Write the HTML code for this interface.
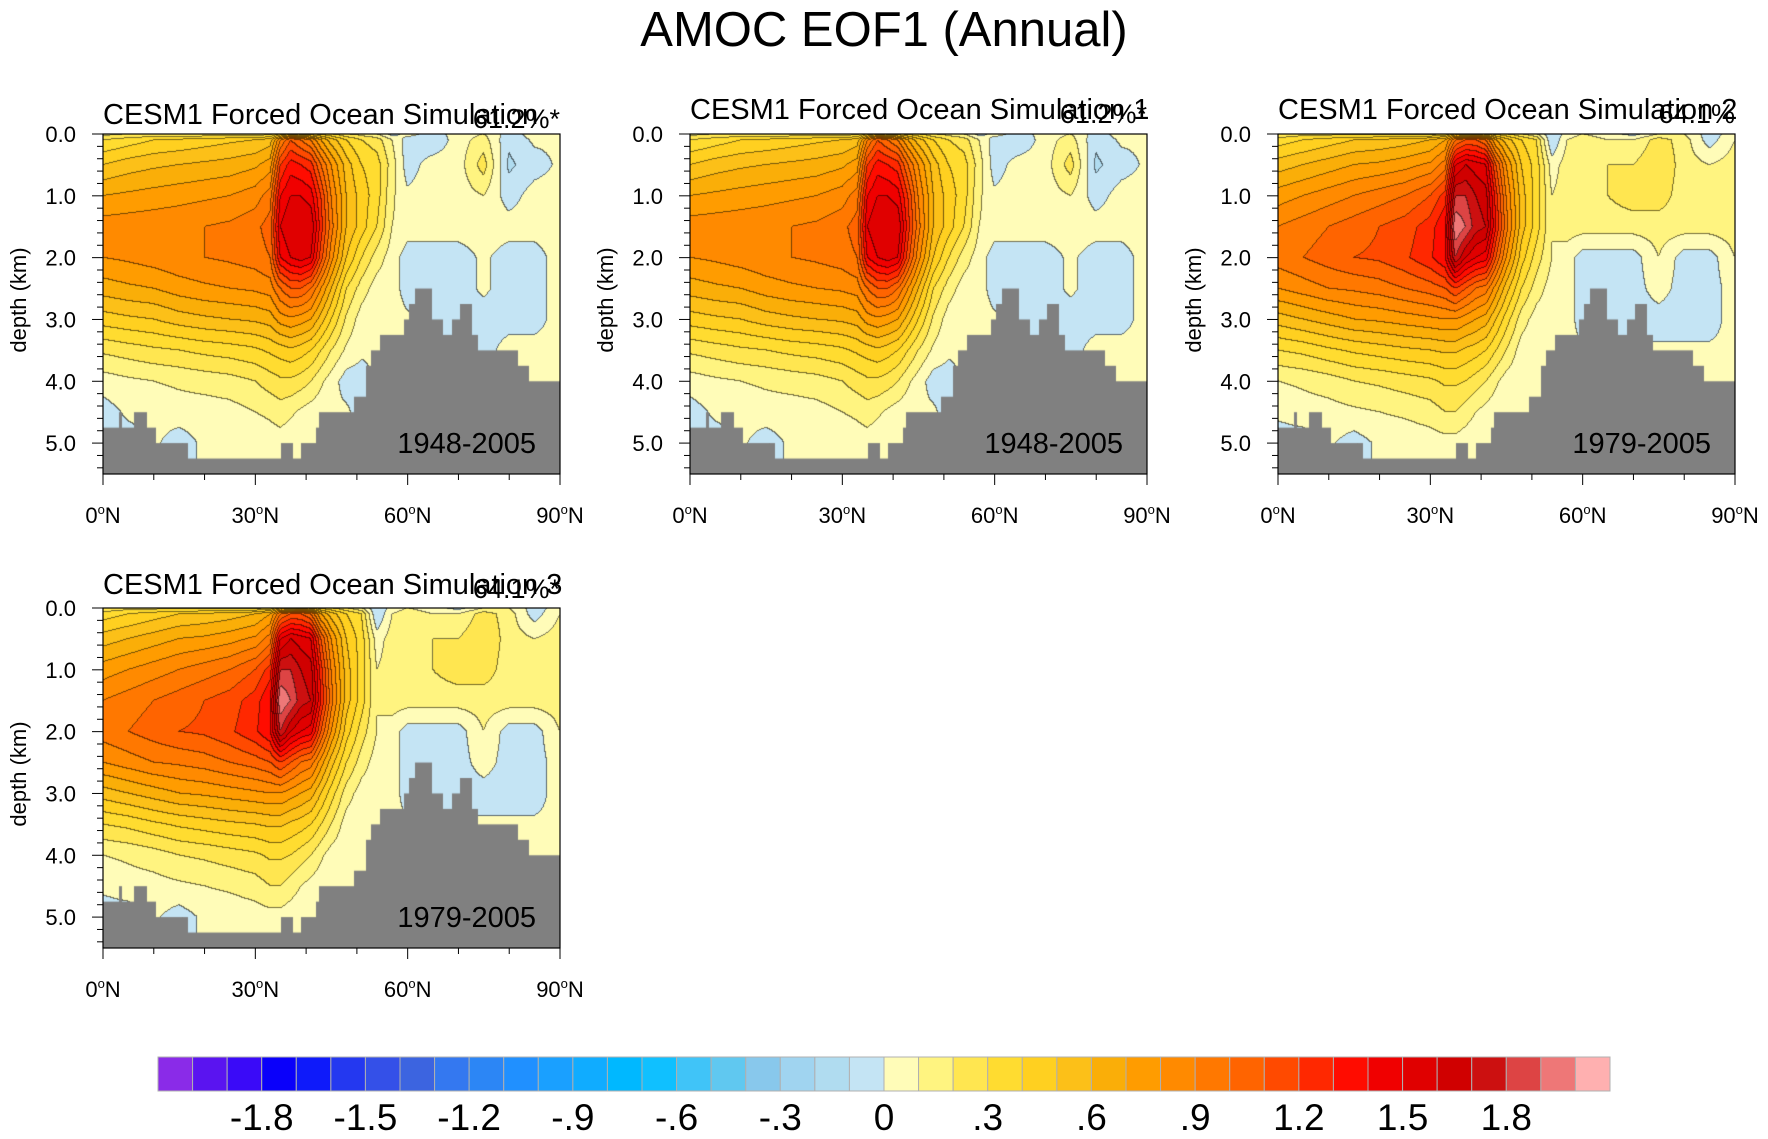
<!DOCTYPE html>
<html>
<head>
<meta charset="utf-8">
<style>
  html,body{margin:0;padding:0;background:#fff;}
  body{width:1768px;height:1139px;position:relative;overflow:hidden;font-family:"Liberation Sans",sans-serif;}
  canvas{position:absolute;}
  svg{position:absolute;left:0;top:0;}
</style>
</head>
<body>
<div id="root"></div>
<svg id="ov" width="1768" height="1139"></svg>
<script>
// ---- data ----
const lats = [0,5,10,15,20,25,30,33,35,37,39,41,43,45,48,51,54,57,60,65,70,75,80,85,90];
const depths = [0,0.1,0.5,1,1.5,2,2.5,3,3.5,4,4.5,5,5.5];
const fieldA = [
 [0.15,0.2,0.2,0.2,0.2,0.2,0.2,0.25,0.4,0.5,0.45,0.4,0.35,0.3,0.2,0.15,0.1,-0.05,0.05,-0.05,0.05,0.1,-0.05,0.05,0.05],
 [0.3,0.35,0.4,0.42,0.45,0.48,0.5,0.55,0.9,1.1,1.0,0.9,0.7,0.55,0.4,0.3,0.25,0.1,-0.05,-0.08,0.05,0.15,-0.08,0.02,0.02],
 [0.5,0.55,0.58,0.6,0.62,0.64,0.68,0.75,1.2,1.35,1.3,1.25,1.0,0.8,0.55,0.4,0.35,0.15,-0.05,0.05,0.05,0.25,-0.12,-0.05,0.02],
 [0.7,0.72,0.74,0.76,0.78,0.8,0.85,0.95,1.4,1.5,1.5,1.45,1.2,0.9,0.6,0.45,0.35,0.12,0.02,0.05,0.05,0.1,-0.05,0.05,0.05],
 [0.85,0.86,0.87,0.88,0.9,0.92,0.97,1.05,1.5,1.6,1.6,1.6,1.25,0.95,0.6,0.45,0.3,0.1,0.05,0.05,0.05,0.05,0.05,0.05,0.05],
 [0.8,0.82,0.85,0.88,0.9,0.92,0.95,1.0,1.4,1.5,1.55,1.5,1.15,0.85,0.5,0.3,0.15,0.05,-0.05,-0.05,-0.05,0.02,-0.05,-0.05,0.05],
 [0.65,0.68,0.7,0.75,0.78,0.8,0.82,0.85,1.0,1.1,1.1,1.0,0.8,0.6,0.3,0.15,0.05,0.05,-0.05,-0.05,-0.05,0.02,-0.05,-0.05,0.05],
 [0.45,0.48,0.5,0.55,0.58,0.6,0.62,0.65,0.75,0.78,0.75,0.7,0.55,0.4,0.18,0.05,0.02,0.05,0.02,-0.05,-0.05,-0.05,-0.05,-0.05,0.05],
 [0.22,0.25,0.28,0.3,0.33,0.35,0.38,0.42,0.45,0.48,0.45,0.4,0.3,0.2,0.08,0.02,0.02,0.02,0.02,-0.05,-0.05,-0.05,0.05,0.05,0.05],
 [0.05,0.08,0.1,0.12,0.14,0.16,0.2,0.25,0.28,0.28,0.25,0.2,0.12,0.05,-0.05,-0.05,0.02,0.02,0.02,0.02,0.02,0.02,0.02,0.02,0.02],
 [-0.05,0.02,0.03,0.05,0.05,0.06,0.1,0.12,0.15,0.12,0.08,0.05,0.03,0.02,0.02,-0.05,0.02,0.02,0.02,0.02,0.02,0.02,0.02,0.02,0.02],
 [-0.05,-0.05,0.02,-0.05,0.02,0.02,0.03,0.05,0.05,0.03,0.02,0.02,0.02,0.02,0.02,0.02,0.02,0.02,0.02,0.02,0.02,0.02,0.02,0.02,0.02],
 [-0.05,-0.05,0.02,-0.05,0.02,0.02,0.03,0.05,0.05,0.03,0.02,0.02,0.02,0.02,0.02,0.02,0.02,0.02,0.02,0.02,0.02,0.02,0.02,0.02,0.02]
];
const fieldB = [
 [0.2,0.25,0.25,0.25,0.25,0.25,0.25,0.3,0.5,0.4,0.5,0.45,0.35,0.3,0.2,0.1,-0.1,0.05,0.1,0.05,-0.05,0.1,0.1,-0.05,0.05],
 [0.35,0.4,0.45,0.5,0.52,0.55,0.6,0.7,1.0,1.1,1.1,1.0,0.7,0.55,0.4,0.3,-0.1,0.1,0.15,0.1,0.1,0.25,0.15,-0.05,0.1],
 [0.55,0.6,0.65,0.7,0.72,0.76,0.82,0.95,1.5,1.6,1.55,1.5,1.1,0.8,0.5,0.35,0.05,0.15,0.15,0.2,0.2,0.3,0.15,0.1,0.15],
 [0.75,0.8,0.85,0.9,0.95,1.0,1.1,1.25,1.8,1.8,1.7,1.65,1.25,0.9,0.55,0.35,0.1,0.15,0.15,0.2,0.25,0.25,0.15,0.15,0.15],
 [0.9,0.95,1.0,1.05,1.1,1.15,1.25,1.4,2.0,1.9,1.75,1.7,1.3,0.95,0.55,0.35,0.1,0.15,0.15,0.15,0.15,0.15,0.15,0.15,0.15],
 [0.95,1.0,1.05,1.1,1.12,1.18,1.28,1.4,1.8,1.6,1.5,1.45,1.1,0.8,0.45,0.25,0.1,0.05,-0.05,-0.05,-0.05,0.1,-0.05,-0.05,0.1],
 [0.8,0.85,0.9,0.92,0.95,1.0,1.05,1.1,1.2,1.1,1.0,0.95,0.75,0.55,0.3,0.15,0.05,0.05,-0.05,-0.05,-0.05,0.05,-0.05,-0.05,0.05],
 [0.55,0.6,0.65,0.7,0.72,0.75,0.78,0.8,0.8,0.75,0.7,0.65,0.5,0.35,0.15,0.05,0.05,0.05,-0.05,-0.05,-0.05,-0.05,-0.05,-0.05,0.05],
 [0.3,0.33,0.38,0.42,0.45,0.48,0.5,0.52,0.52,0.48,0.45,0.4,0.3,0.2,0.05,0.02,0.02,0.02,0.02,0.02,0.02,0.02,0.02,0.02,0.02],
 [0.1,0.12,0.15,0.2,0.22,0.25,0.28,0.32,0.32,0.3,0.25,0.2,0.12,0.05,0.02,0.02,0.02,0.02,0.02,0.02,0.02,0.02,0.02,0.02,0.02],
 [0.02,0.05,0.06,0.08,0.1,0.12,0.15,0.2,0.2,0.15,0.1,0.06,0.03,0.02,0.02,0.02,0.02,0.02,0.02,0.02,0.02,0.02,0.02,0.02,0.02],
 [-0.05,-0.05,0.02,-0.05,0.02,0.03,0.05,0.06,0.06,0.04,0.02,0.02,0.02,0.02,0.02,0.02,0.02,0.02,0.02,0.02,0.02,0.02,0.02,0.02,0.02],
 [-0.05,-0.05,0.02,-0.05,0.02,0.03,0.05,0.06,0.06,0.04,0.02,0.02,0.02,0.02,0.02,0.02,0.02,0.02,0.02,0.02,0.02,0.02,0.02,0.02,0.02]
];
const bathyLatEdges = [0,3.3,3.7,6.3,8.5,10.4,15.7,16.6,35.2,37.3,39.0,42.1,42.7,49.6,51.8,52.8,54.7,59.4,60.4,61.5,64.7,66.8,68.9,70.5,72.6,73.7,81.7,83.7,90];
const bathyDepths = [4.75,4.5,4.75,4.5,4.75,5.0,5.0,5.25,5.0,5.25,5.0,4.75,4.5,4.25,3.75,3.5,3.25,3.0,2.75,2.5,3.0,3.25,3.0,2.75,3.25,3.5,3.75,4.0];
const cbColors = ["#8a2be8","#5a14f0","#3a0af8","#0a00fa","#0e1afa","#2438f0","#3450e8","#3c64e0","#3478f0","#2c86f5","#2090ff","#1aa0ff","#10acff","#00b8ff","#10c0ff","#40c4f8","#60c8f0","#88c8ec","#a0d4f0","#b0dcf0","#c4e4f4","#fffcb8","#fff480","#ffe650","#ffdc30","#ffd020","#fcc018","#faae08","#ff9c00","#ff8a00","#ff7800","#ff6400","#ff4a00","#ff2800","#ff0c00","#f00000","#e00000","#d00000","#cc1010","#dd4444","#ee7777","#ffb0b0"];
const cbLabels = ["-1.8","-1.5","-1.2","-.9","-.6","-.3","0",".3",".6",".9","1.2","1.5","1.8"];
const cbLabelValues = [-1.8,-1.5,-1.2,-0.9,-0.6,-0.3,0,0.3,0.6,0.9,1.2,1.5,1.8];
const yTickLabels = ["0.0","1.0","2.0","3.0","4.0","5.0"];
const yTickValues = [0,1,2,3,4,5];
const xTickLabels = ["0","30","60","90"];
const xTickValues = [0,30,60,90];
const panelTitles = ["CESM1 Forced Ocean Simulation","CESM1 Forced Ocean Simulation 1","CESM1 Forced Ocean Simulation 2","CESM1 Forced Ocean Simulation 3"];
const panelPct = ["61.2%*","61.2%*","64.1%","64.1%*"];
const panelPeriods = ["1948-2005","1948-2005","1979-2005","1979-2005"];

// ---- layout ----
const NS="http://www.w3.org/2000/svg";
const ov=document.getElementById('ov');
const root=document.getElementById('root');
const W=457,H=340, LATMAX=90, DMAX=5.5, VMIN=-2.1, STEP=0.1;
const panels=[{x:103,y:134,f:fieldA,tb:124},{x:690,y:134,f:fieldA,tb:119},{x:1278,y:134,f:fieldB,tb:119},{x:103,y:608,f:fieldB,tb:594}];
const CB={x:158,y:1057,w:1452,h:34};

function sx(lat){return lat/LATMAX*W;}
function sy(d){return d/DMAX*H;}
function cbx(v){return CB.x+(v-VMIN)/(STEP*cbColors.length)*CB.w;}
function locate(arr,v){let i=0;while(i<arr.length-2&&v>arr[i+1])i++;let f=(v-arr[i])/(arr[i+1]-arr[i]);return [i,Math.max(0,Math.min(1,f))];}
function hex(c){return [parseInt(c.substr(1,2),16),parseInt(c.substr(3,2),16),parseInt(c.substr(5,2),16)];}
const rgb=cbColors.map(hex);

function mk(tag,attrs,parent){const e=document.createElementNS(NS,tag);for(const k in attrs)e.setAttribute(k,attrs[k]);(parent||ov).appendChild(e);return e;}
function txt(s,x,y,size,anchor,parent){const t=mk('text',{x:x,y:y,'font-size':size,'text-anchor':anchor||'start','font-family':'Liberation Sans, sans-serif',fill:'#000'},parent);t.textContent=s;return t;}

// title
const title=txt("AMOC EOF1 (Annual)",884,46,49,'middle');



panels.forEach((p,pi)=>{
  const cv=document.createElement('canvas');
  cv.width=W;cv.height=H;cv.style.left=p.x+'px';cv.style.top=p.y+'px';
  
  
  root.appendChild(cv);
  const ctx=cv.getContext('2d');
  const img=ctx.createImageData(W,H);
  const idx=new Int16Array(W*H);
  const cols=[];for(let x=0;x<W;x++)cols.push(locate(lats,(x+0.5)/W*LATMAX));
  for(let y=0;y<H;y++){
    const [j,fy]=locate(depths,(y+0.5)/H*DMAX);
    const r0=p.f[j],r1=p.f[j+1];
    for(let x=0;x<W;x++){
      const [i,fx]=cols[x];
      const v=(r0[i]*(1-fx)+r0[i+1]*fx)*(1-fy)+(r1[i]*(1-fx)+r1[i+1]*fx)*fy;
      let k=Math.floor((v-VMIN)/STEP);k=Math.max(0,Math.min(cbColors.length-1,k));
      idx[y*W+x]=k;
    }
  }
  for(let y=0;y<H;y++)for(let x=0;x<W;x++){
    const k=idx[y*W+x];let c=rgb[k];
    let edge=(x<W-1&&idx[y*W+x+1]!==k)||(y<H-1&&idx[(y+1)*W+x]!==k);
    const o=(y*W+x)*4;
    const m=edge?0.45:1;
    img.data[o]=c[0]*m;img.data[o+1]=c[1]*m;img.data[o+2]=c[2]*m;img.data[o+3]=255;
  }
  ctx.putImageData(img,0,0);
  ctx.fillStyle='#808080';
  for(let b=0;b<bathyDepths.length;b++){
    const x0=sx(bathyLatEdges[b]),x1=sx(bathyLatEdges[b+1]);
    ctx.fillRect(Math.floor(x0),sy(bathyDepths[b]),Math.ceil(x1)-Math.floor(x0),H-sy(bathyDepths[b]));
  }
  const g=mk('g',{transform:'translate('+p.x+','+p.y+')'});
  
  
  const fr=mk('rect',{x:0,y:0,width:W,height:H,fill:'none',stroke:'#000','stroke-width':1.2},g);
  
  
  for(let d=0;d<=5.41;d+=0.2){const major=Math.abs(d-Math.round(d))<1e-6;mk('line',{x1:major?-11:-6,x2:0,y1:sy(d),y2:sy(d),stroke:'#000','stroke-width':1},g);}
  for(let l=0;l<=90;l+=10){const major=l%30===0;mk('line',{x1:sx(l),x2:sx(l),y1:H,y2:H+(major?11:6),stroke:'#000','stroke-width':1},g);}
  yTickValues.forEach((v,i)=>{const t=txt(yTickLabels[i],-27,sy(v)+8,22,'end',g);
    
    });
  xTickValues.forEach((v,i)=>{const t=mk('text',{x:sx(v),y:H+49,'font-size':22,'text-anchor':'middle','font-family':'Liberation Sans, sans-serif'},g);
    t.innerHTML=xTickLabels[i]+'<tspan font-size="13" dy="-9">o</tspan><tspan dy="9">N</tspan>';
    
    });
  const yt=txt('depth (km)',0,0,22,'middle',g);
  yt.setAttribute('transform','translate('+(-77)+','+(H/2-4)+') rotate(-90)');
  
  
  const tt=txt(panelTitles[pi],0,p.tb-p.y,29,'start',g);
  
  
  const pc=txt(panelPct[pi],W,p.tb-p.y+4,27,'end',g);
  
  
  const pr=txt(panelPeriods[pi],W-24,H-21,29,'end',g);
  
  
});

// colorbar
const cbg=mk('g',{});


cbColors.forEach((c,i)=>{
  const v0=VMIN+i*STEP;
  const r=mk('rect',{x:cbx(v0),y:CB.y,width:cbx(v0+STEP)-cbx(v0),height:CB.h,fill:c,stroke:'#b0b0b0','stroke-width':1},cbg);
  
  
});
cbLabelValues.forEach((v,i)=>{
  const t=txt(cbLabels[i],cbx(v),1130,37,'middle',cbg);
  
  
});
</script>
</body>
</html>
